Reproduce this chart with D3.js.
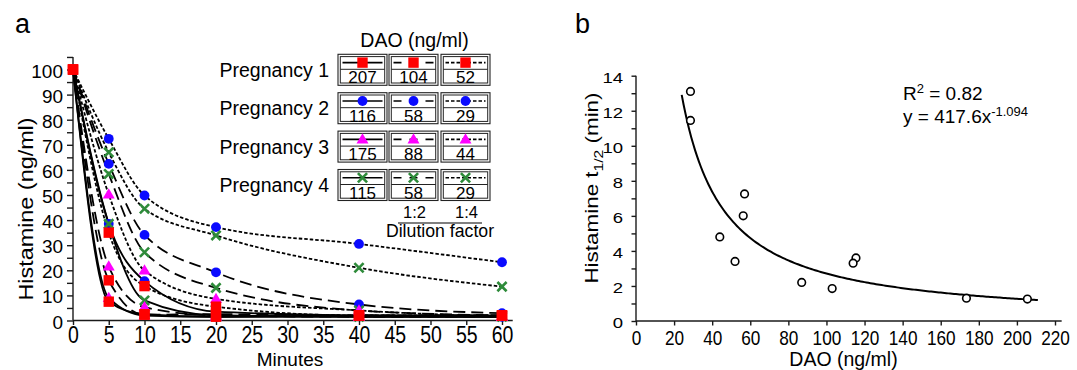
<!DOCTYPE html>
<html>
<head>
<meta charset="utf-8">
<script src="https://cdn.jsdelivr.net/npm/d3@7"></script>
<style>
  body { margin: 0; background: #fff; }
  svg text { font-family: "Liberation Sans", Arial, sans-serif; fill: #000; }
</style>
</head>
<body>
<svg id="chart" width="1077" height="370"></svg>
<script>
// ---- data ----
const times = [0, 5, 10, 20, 40, 60];
const pregnancyNames = ["Pregnancy 1", "Pregnancy 2", "Pregnancy 3", "Pregnancy 4"];
const daoLevels = [[207, 104, 52], [116, 58, 29], [175, 88, 44], [115, 58, 29]];
const dilutionLabels = ["", "1:2", "1:4"];

// histamine (ng/ml) over time; per pregnancy: undiluted, 1:2, 1:4
const preg1 = [[100, 7.5, 2.5, 1.5, 2, 2], [100, 16, 2.3, 2.5, 2, 2], [100, 35, 13.7, 5.5, 2, 2]];
const preg2 = [[100, 38.5, 15.7, 3.5, 2, 1.5], [100, 62.4, 34.1, 19.2, 6.4, 2.9], [100, 72.4, 49.8, 37.2, 30.5, 23.2]];
const preg3 = [[100, 9, 2, 1.5, 1.5, 1.5], [100, 21.5, 5.3, 2, 1.5, 1.5], [100, 50.2, 19.9, 8.6, 4, 1.5]];
const preg4 = [[100, 38.5, 8, 2, 1.5, 1.5], [100, 58.4, 27.2, 13, 4, 2], [100, 67, 44.5, 33.9, 21, 13.5]];

// panel b: DAO vs histamine half-life
const halfLifeDao = [205.5, 103, 52, 115.5, 57, 28.6, 173.5, 87, 44, 114, 56.3, 28.6];
const halfLifeMin = [1.25, 1.85, 3.4, 3.6, 7.25, 13.1, 1.3, 2.2, 4.8, 3.3, 6.0, 11.45];
const fitCoef = 417.6, fitExp = -1.094;
const fitRange = [24, 211];

// ---- styles ----
const markerColors = ["#ff0000", "#0a0aff", "#ff00ff", "#2e8b3a"];
const markerTypes = ["square", "circle", "triangle", "cross"];
const dashStyles = [null, "12,6", "3.5,2"];

const svg = d3.select("#chart");

function drawMarker(g, type, x, y, color) {
  if (type === "square") {
    g.append("rect").attr("x", x - 5.2).attr("y", y - 5.2).attr("width", 10.4).attr("height", 10.4).attr("fill", color);
  } else if (type === "circle") {
    g.append("circle").attr("cx", x).attr("cy", y).attr("r", 4.9).attr("fill", color);
  } else if (type === "triangle") {
    g.append("path").attr("d", `M${x},${y - 6.2}L${x + 6},${y + 4}L${x - 6},${y + 4}Z`).attr("fill", color);
  } else {
    const s = 4.6;
    g.append("path").attr("d", `M${x - s},${y - s}L${x + s},${y + s}M${x - s},${y + s}L${x + s},${y - s}`)
      .attr("stroke", color).attr("stroke-width", 2.6).attr("fill", "none");
  }
}

// ================= panel a =================
const xA = d3.scaleLinear().domain([0, 60]).range([73, 502]);
const yA = d3.scaleLinear().domain([0, 100]).range([320.5, 69.5]);
const gA = svg.append("g");

// axes
const axA_x = gA.append("g").attr("transform", `translate(0,${yA(0)})`)
  .call(d3.axisBottom(xA).tickValues(d3.range(0, 61, 5)).tickSize(4.5).tickSizeOuter(0));
axA_x.select(".domain").remove();
axA_x.selectAll(".tick text").attr("y", 0).attr("dy", null)
  .style("font-size", "19.5px").attr("transform", "translate(0,22.5) scale(1,1.22)");
gA.append("line").attr("x1", xA(0)).attr("x2", xA(61.5)).attr("y1", yA(0)).attr("y2", yA(0));

const axA_y = gA.append("g").attr("transform", `translate(${xA(0)},0)`)
  .call(d3.axisLeft(yA).tickValues(d3.range(0, 106, 5)).tickSize(6).tickPadding(4)
    .tickFormat(d => d % 10 === 0 ? d : ""));
axA_y.select(".domain").remove();
axA_y.selectAll(".tick text").attr("dy", null).style("font-size", "19px")
  .attr("transform", "translate(0,7.5) scale(1,0.94)");
gA.append("line").attr("x1", xA(0)).attr("x2", xA(0)).attr("y1", yA(0)).attr("y2", yA(105));
gA.selectAll("line, .tick line").attr("stroke", "#1a1a1a").attr("stroke-width", 1.4);

gA.append("text").attr("x", 15).attr("y", 33).style("font-size", "27px").text("a");
gA.append("text").attr("transform", "translate(33,209) rotate(-90) scale(1.2,1)")
  .attr("text-anchor", "middle").style("font-size", "19.5px").text("Histamine (ng/ml)");
gA.append("text").attr("x", 290).attr("y", 366).attr("text-anchor", "middle")
  .style("font-size", "19px").text("Minutes");

// curves
const allSeries = [preg1, preg2, preg3, preg4];
const lineA = d3.line().x((d, i) => xA(times[i])).y(d => yA(d)).curve(d3.curveMonotoneX);
allSeries.forEach(p => p.forEach((vals, j) => {
  gA.append("path").attr("d", lineA(vals)).attr("fill", "none")
    .attr("stroke", "#000").attr("stroke-width", 1.8)
    .attr("stroke-dasharray", dashStyles[j]);
}));

// markers (blue, green, magenta, red on top)
const drawOrder = [1, 3, 2, 0];
const gMarks = gA.append("g");
drawOrder.forEach(pi => {
  allSeries[pi].forEach(vals => {
    vals.forEach((v, i) => {
      if (i === 0 && pi !== 0) return;
      drawMarker(gMarks, markerTypes[pi], xA(times[i]), yA(v), markerColors[pi]);
    });
  });
});

// legend table
const gL = svg.append("g");
const colX = [338, 389, 441], cellW = 49, cellH = 31;
gL.append("text").attr("x", 414.5).attr("y", 47).attr("text-anchor", "middle")
  .style("font-size", "19.5px").text("DAO (ng/ml)");
pregnancyNames.forEach((name, r) => {
  const top = 54.3 + r * 38.4;
  gL.append("text").attr("x", 329).attr("y", top + 22.5).attr("text-anchor", "end")
    .style("font-size", "19.5px").text(name);
  daoLevels[r].forEach((dao, c) => {
    const x0 = colX[c];
    const cg = gL.append("g");
    cg.append("rect").attr("x", x0).attr("y", top).attr("width", cellW).attr("height", cellH)
      .attr("fill", "#fff").attr("stroke", "#222").attr("stroke-width", 1.1);
    cg.append("rect").attr("x", x0 + 2.3).attr("y", top + 2.3).attr("width", cellW - 4.6).attr("height", cellH - 4.6)
      .attr("fill", "none").attr("stroke", "#222").attr("stroke-width", 1);
    cg.append("line").attr("x1", x0 + 2.3).attr("x2", x0 + cellW - 2.3).attr("y1", top + 15).attr("y2", top + 15)
      .attr("stroke", "#222").attr("stroke-width", 1);
    const cx = x0 + cellW / 2;
    cg.append("line").attr("x1", cx - 20).attr("x2", cx + 20).attr("y1", top + 8.3).attr("y2", top + 8.3)
      .attr("stroke", "#000").attr("stroke-width", 1.6)
      .attr("stroke-dasharray", c === 1 ? "8,8" : dashStyles[c]);
    drawMarker(cg, markerTypes[r], cx, top + 8.3, markerColors[r]);
    cg.append("text").attr("x", cx).attr("y", top + 29).attr("text-anchor", "middle")
      .style("font-size", "17px").text(dao);
  });
});
dilutionLabels.forEach((lab, c) => {
  if (!lab) return;
  gL.append("text").attr("x", colX[c] + cellW / 2 + 1).attr("y", 218).attr("text-anchor", "middle")
    .style("font-size", "16.5px").text(lab);
});
gL.append("line").attr("x1", 398).attr("x2", 482).attr("y1", 223).attr("y2", 223)
  .attr("stroke", "#000").attr("stroke-width", 1.1);
gL.append("text").attr("x", 440).attr("y", 237).attr("text-anchor", "middle")
  .style("font-size", "17.7px").text("Dilution factor");

// ================= panel b =================
const xB = d3.scaleLinear().domain([0, 220]).range([636, 1055]);
const yB = d3.scaleLinear().domain([0, 14]).range([321, 75.7]);
const gB = svg.append("g");

const axB_x = gB.append("g").attr("transform", `translate(0,${yB(0)})`)
  .call(d3.axisBottom(xB).tickValues(d3.range(0, 221, 20)).tickSize(4.5).tickSizeOuter(0));
axB_x.select(".domain").remove();
axB_x.selectAll(".tick text").attr("y", 0).attr("dy", null)
  .style("font-size", "17.2px").attr("transform", "translate(0,24) scale(1,1.22)");
gB.append("line").attr("x1", xB(0)).attr("x2", xB(223.5)).attr("y1", yB(0)).attr("y2", yB(0));

const axB_y = gB.append("g").attr("transform", `translate(${xB(0)},0)`)
  .call(d3.axisLeft(yB).tickValues(d3.range(0, 15, 1)).tickSize(4.5).tickPadding(8.5)
    .tickFormat(d => d % 2 === 0 ? d : ""));
axB_y.select(".domain").remove();
axB_y.selectAll(".tick text").attr("dy", null).style("font-size", "18.5px")
  .attr("transform", "translate(0,6.5) scale(1,0.82)");
gB.append("line").attr("x1", xB(0)).attr("x2", xB(0)).attr("y1", yB(0)).attr("y2", yB(14));
gB.selectAll("line, .tick line").attr("stroke", "#1a1a1a").attr("stroke-width", 1.4);

gB.append("text").attr("x", 575).attr("y", 33).style("font-size", "27px").text("b");

const yLabB = gB.append("text").attr("transform", "translate(598,188) rotate(-90) scale(1.2,1)")
  .attr("text-anchor", "middle").style("font-size", "18.7px");
yLabB.append("tspan").text("Histamine t");
yLabB.append("tspan").attr("dy", 5).style("font-size", "13px").text("1/2");
yLabB.append("tspan").attr("dy", -5).text(" (min)");

gB.append("text").attr("x", 843.5).attr("y", 366).attr("text-anchor", "middle")
  .style("font-size", "19.5px").text("DAO (ng/ml)");

// fitted power curve y = a * x^b
const fitX = d3.range(fitRange[0], fitRange[1] + 0.5, 1);
const lineB = d3.line().x(d => xB(d)).y(d => yB(fitCoef * Math.pow(d, fitExp)));
gB.append("path").attr("d", lineB(fitX)).attr("fill", "none")
  .attr("stroke", "#000").attr("stroke-width", 2);

gB.selectAll(".pt").data(halfLifeDao).enter().append("circle")
  .attr("cx", d => xB(d)).attr("cy", (d, i) => yB(halfLifeMin[i])).attr("r", 3.8)
  .attr("fill", "#fff").attr("stroke", "#000").attr("stroke-width", 1.6);

const r2 = gB.append("text").attr("x", 903).attr("y", 100).style("font-size", "19px");
r2.append("tspan").text("R");
r2.append("tspan").attr("dy", -7).style("font-size", "13px").text("2");
r2.append("tspan").attr("dy", 7).text(" = 0.82");
const eq = gB.append("text").attr("x", 903).attr("y", 122.5).style("font-size", "19px");
eq.append("tspan").text("y = 417.6x");
eq.append("tspan").attr("dy", -7).style("font-size", "13px").text("-1.094");
</script>
</body>
</html>
